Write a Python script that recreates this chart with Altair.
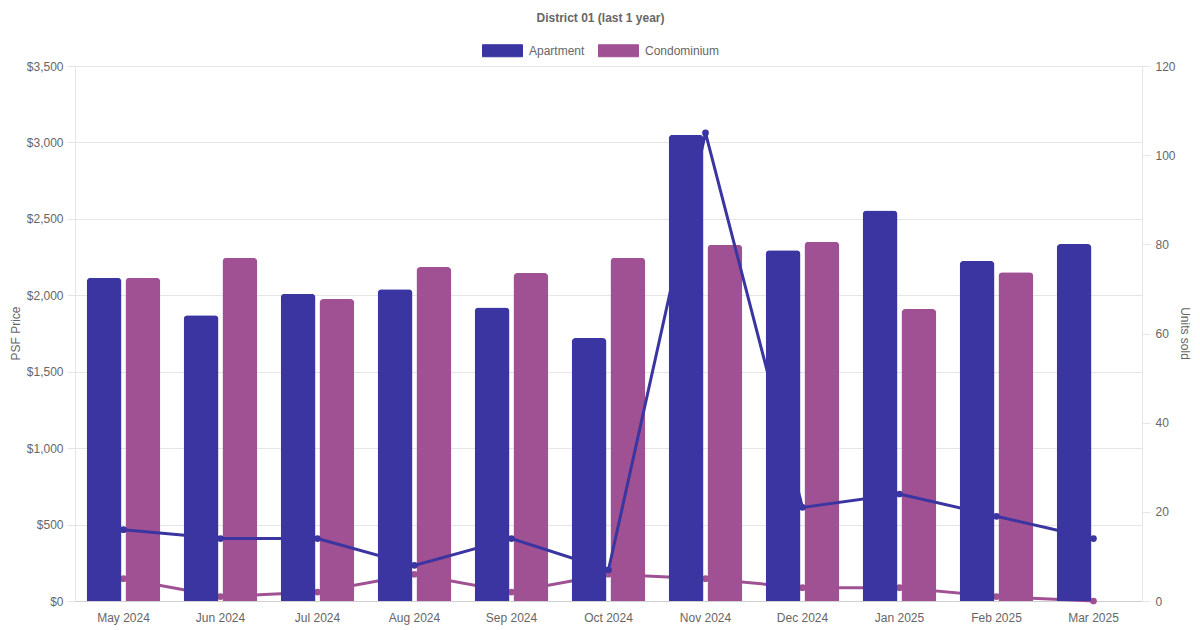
import altair as alt
import pandas as pd

# Values
months = [
    "May 2024", "Jun 2024", "Jul 2024", "Aug 2024", "Sep 2024", "Oct 2024",
    "Nov 2024", "Dec 2024", "Jan 2025", "Feb 2025", "Mar 2025",
]
apt_psf = [2115, 1870, 2010, 2040, 1920, 1720, 3050, 2295, 2555, 2225, 2335]
condo_psf = [2115, 2245, 1975, 2185, 2145, 2245, 2330, 2350, 1910, 2150, None]
apt_units = [16, 14, 14, 8, 14, 7, 105, 21, 24, 19, 14]
condo_units = [5, 1, 2, 6, 2, 6, 5, 3, 3, 1, 0]

types = ["Apartment", "Condominium"]
colors = ["#3a35a0", "#a05194"]

rows = []
for i, m in enumerate(months):
    rows.append({"month": m, "type": "Apartment", "psf": apt_psf[i], "units": apt_units[i]})
    rows.append({"month": m, "type": "Condominium", "psf": condo_psf[i], "units": condo_units[i]})
df = pd.DataFrame(rows)

FONT = "Liberation Sans"
GREY = "#666666"
GRID = "#e5e5e5"

x_enc = alt.X(
    "month:N",
    sort=months,
    title=None,
    scale=alt.Scale(paddingInner=0.2, paddingOuter=0.1),
    axis=alt.Axis(ticks=False, labelPadding=11, labelAngle=0, grid=False,
                  domainColor="#d0d0d0"),
)
color_enc = alt.Color(
    "type:N",
    scale=alt.Scale(domain=types, range=colors),
    legend=alt.Legend(
        title=None,
        orient="none",
        legendX=407,
        legendY=-36,
        direction="horizontal",
        symbolType="M-1,-0.3H1V0.3H-1Z",
        symbolSize=1600,
        symbolStrokeColor="#c8c6e6",
        symbolStrokeWidth=1,
        labelFontSize=12,
        labelColor=GREY,
        labelFont=FONT,
        labelOffset=6,
        columnPadding=11,
    ),
)
xoff = alt.XOffset("type:N", scale=alt.Scale(domain=types, paddingInner=0.1, paddingOuter=0.05))

bar_y_scale = alt.Scale(domain=[0, 3500])
left_axis = alt.Axis(
    title="PSF Price",
    format="$,.0f",
    values=list(range(0, 3501, 500)),
    tickSize=8,
    tickColor=GRID,
    labelPadding=4,
    gridColor=GRID,
    domainColor=GRID,
    titleX=-53,
    titleY=267,
    titleFontWeight="normal",
)

base = alt.Chart(df)

condo_bars = (
    base.transform_filter("datum.type == 'Condominium' && datum.psf != null")
    .mark_bar(cornerRadiusTopLeft=4, cornerRadiusTopRight=4)
    .encode(
        x=x_enc,
        xOffset=xoff,
        y=alt.Y("psf:Q", scale=bar_y_scale, axis=left_axis),
        color=color_enc,
    )
)

apt_bars = (
    base.transform_filter("datum.type == 'Apartment'")
    .mark_bar(cornerRadiusTopLeft=4, cornerRadiusTopRight=4)
    .encode(
        x=x_enc,
        xOffset=xoff,
        y=alt.Y("psf:Q", scale=bar_y_scale, axis=None),
        color=alt.Color("type:N", scale=alt.Scale(domain=types, range=colors), legend=None),
    )
)

lines = (
    base.mark_line(
        interpolate="linear",
        strokeWidth=3,
        point=alt.OverlayMarkDef(filled=True, size=45),
    )
    .encode(
        x=x_enc,
        y=alt.Y(
            "units:Q",
            scale=alt.Scale(domain=[0, 120]),
            axis=alt.Axis(
                title="Units sold",
                orient="right",
                values=list(range(0, 121, 20)),
                grid=False,
                tickSize=8,
                tickColor=GRID,
                labelPadding=5,
                domainColor=GRID,
                titleX=35,
                titleY=267,
                titleFontWeight="normal",
            ),
        ),
        color=alt.Color("type:N", scale=alt.Scale(domain=types, range=colors), legend=None),
        detail="type:N",
        order=alt.Order("type:N", sort="descending"),
    )
)

chart = (
    alt.layer(condo_bars, lines, apt_bars)
    .resolve_scale(y="independent")
    .properties(
        width=1067,
        height=535,
        autosize=alt.AutoSizeParams(type="none"),
        padding={"left": 67, "top": 58, "right": 50, "bottom": 25},
        title=alt.TitleParams(
            "District 01 (last 1 year)",
            fontSize=12,
            fontWeight="bold",
            color=GREY,
            font=FONT,
            dx=-8,
            offset=5,
        ),
    )
    .configure_axis(
        labelFont=FONT,
        titleFont=FONT,
        labelFontSize=12,
        titleFontSize=12,
        labelColor=GREY,
        titleColor=GREY,
    )
    .configure_view(stroke=None)
)

chart.save("out.html", embed_options={"renderer": "svg", "actions": False})
